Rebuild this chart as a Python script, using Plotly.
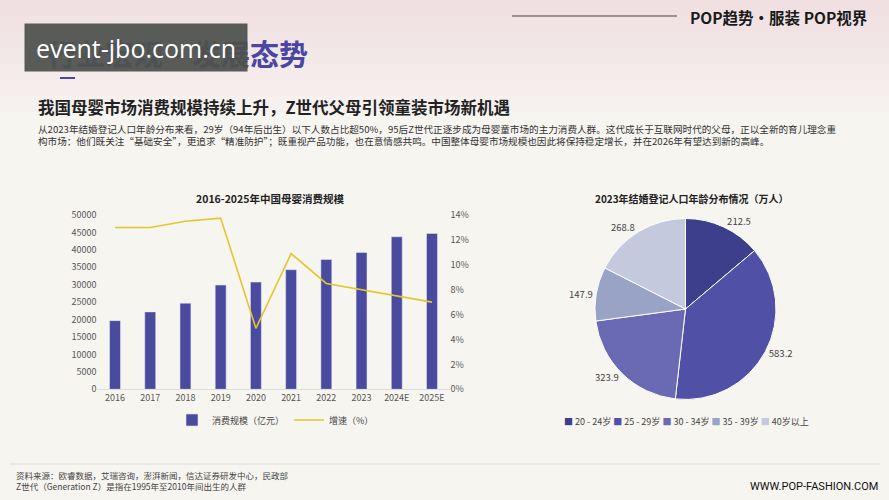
import plotly.graph_objects as go

# ---------------- data ----------------
years = ["2016", "2017", "2018", "2019", "2020", "2021", "2022", "2023", "2024E", "2025E"]
consumption = [19700, 22200, 24700, 29900, 30750, 34300, 37250, 39250, 43750, 44700]
growth = [0.130, 0.130, 0.135, 0.1375, 0.049, 0.109, 0.085, 0.080, 0.0745, 0.070]
left_ticks = [0, 5000, 10000, 15000, 20000, 25000, 30000, 35000, 40000, 45000, 50000]
right_ticks = [0, 0.02, 0.04, 0.06, 0.08, 0.10, 0.12, 0.14]

age_groups = ["20 - 24岁", "25 - 29岁", "30 - 34岁", "35 - 39岁", "40岁以上"]
marriages = [212.5, 583.2, 323.9, 147.9, 268.8]

W, H = 889, 500
CJK = "Noto Sans CJK SC"
def px(x):
    return x / W
def py(y):
    return 1 - y / H

bar_color = "#4a4a9e"
line_color = "#e3c62f"
pie_colors = ["#3e3f8c", "#4f50a6", "#6a6ab4", "#98a3c6", "#c4c9de"]

fig = go.Figure()
fig.add_trace(go.Bar(x=years, y=consumption, name="消费规模（亿元）",
                     marker_color=bar_color, xaxis="x", yaxis="y"))
fig.add_trace(go.Scatter(x=years, y=growth, name="增速（%）", mode="lines",
                         line=dict(color=line_color, width=1.6), xaxis="x", yaxis="y2"))
fig.add_trace(go.Pie(labels=age_groups, values=marriages, sort=False, direction="clockwise",
                     rotation=0, marker=dict(colors=pie_colors, line=dict(color="white", width=1)),
                     textposition="outside", texttemplate="%{value:.1f}",
                     textfont=dict(size=9.5, color="#444", family=CJK),
                     domain=dict(x=[px(595), px(776)], y=[py(400), py(218)]),
                     showlegend=False))

tickfont = dict(size=9, color="#555", family=CJK)

def ann(text, x, y, **kw):
    d = dict(text=text, x=px(x), y=py(y), xref="paper", yref="paper",
             showarrow=False, yanchor="middle")
    d.update(kw)
    return d

annotations = [
    ann("行业宏观·发展态势", 310, 53, xanchor="right",
        font=dict(size=29, color="#4a46a3", family=CJK, weight="bold")),
    # watermark box (drawn after the title so it covers it)
    ann("event-jbo.com.cn", 24, 47.5, xanchor="left", width=222, height=47,
        bgcolor="rgba(78,82,78,0.94)", borderpad=0,
        font=dict(size=25, color="white", family="Open Sans")),
    ann("POP趋势·服装 POP视界", 870, 17, xanchor="right",
        font=dict(size=15.5, color="#1a1a1a", family=CJK, weight="bold")),
    ann("我国母婴市场消费规模持续上升，Z世代父母引领童装市场新机遇", 36, 107, xanchor="left",
        font=dict(size=16.5, color="#222", family=CJK, weight="bold")),
    ann("从2023年结婚登记人口年龄分布来看，29岁（94年后出生）以下人数占比超50%，95后Z世代正逐步成为母婴童市场的主力消费人群。这代成长于互联网时代的父母，正以全新的育儿理念重<br>"
        "构市场：他们既关注“基础安全”，更追求“精准防护”；既重视产品功能，也在意情感共鸣。中国整体母婴市场规模也因此将保持稳定增长，并在2026年有望达到新的高峰。",
        36, 135, xanchor="left", align="left", font=dict(size=9.6, color="#333", family=CJK)),
    ann("2016-2025年中国母婴消费规模", 270, 198, xanchor="center",
        font=dict(size=10.5, color="#222", family=CJK, weight="bold")),
    ann("2023年结婚登记人口年龄分布情况（万人）", 692, 198, xanchor="center",
        font=dict(size=10, color="#222", family=CJK, weight="bold")),
    ann("资料来源：欧睿数据，艾瑞咨询，澎湃新闻，信达证券研发中心，民政部<br>Z世代（Generation Z）是指在1995年至2010年间出生的人群",
        14, 480, xanchor="left", align="left", font=dict(size=8.5, color="#444", family=CJK)),
    ann("WWW.POP-FASHION.COM", 880, 486, xanchor="right",
        font=dict(size=11, color="#111", family="Roboto")),
]

# pie legend (compact, as in the reference)
legend_text = " ".join(
    f"<span style='color:{c}'>■</span> {g}" for g, c in zip(age_groups, pie_colors))
annotations.append(ann(legend_text, 562, 421, xanchor="left",
                       font=dict(size=9, color="#444", family=CJK)))

# soft pink top fading band
shapes = []
for k in range(1, 8):
    shapes.append(dict(type="rect", xref="paper", yref="paper", x0=0, x1=1,
                       y0=py(16 * k), y1=1, fillcolor="rgba(238,205,218,0.07)",
                       line_width=0, layer="below"))

shapes += [
    dict(type="line", xref="paper", yref="paper", x0=px(512), x1=px(677), y0=py(16), y1=py(16),
         line=dict(color="#444", width=1)),
    dict(type="line", xref="paper", yref="paper", x0=px(60), x1=px(75), y0=py(78), y1=py(78),
         line=dict(color="#4a46a3", width=2)),
    dict(type="line", xref="paper", yref="paper", x0=px(10), x1=px(880), y0=py(464), y1=py(464),
         line=dict(color="#ddd", width=1)),
]

fig.update_layout(
    width=W, height=H, margin=dict(l=0, r=0, t=0, b=0, autoexpand=False),
    paper_bgcolor="#f7f5f0", plot_bgcolor="rgba(0,0,0,0)",
    font=dict(family=CJK, color="#444"),
    bargap=0.69,
    xaxis=dict(domain=[px(97.4), px(449.6)], type="category", tickfont=tickfont,
               showline=True, linecolor="#ddd", ticks="", showgrid=False, zeroline=False),
    yaxis=dict(domain=[py(389.3), py(215)], range=[0, 50000], tickvals=left_ticks,
               tickformat="d", tickfont=tickfont, showgrid=False, zeroline=False, showline=False),
    yaxis2=dict(domain=[py(389.3), py(215)], range=[0, 0.14], tickvals=right_ticks,
                tickformat=".0%", overlaying="y", side="right", anchor="x",
                tickfont=tickfont, showgrid=False, zeroline=False, showline=False),
    legend=dict(orientation="h", x=px(172), y=py(420), xanchor="left", yanchor="middle",
                font=dict(size=9, color="#444", family=CJK), bgcolor="rgba(0,0,0,0)",
                itemwidth=30),
    annotations=annotations, shapes=shapes,
)

fig.write_html("out.html")
